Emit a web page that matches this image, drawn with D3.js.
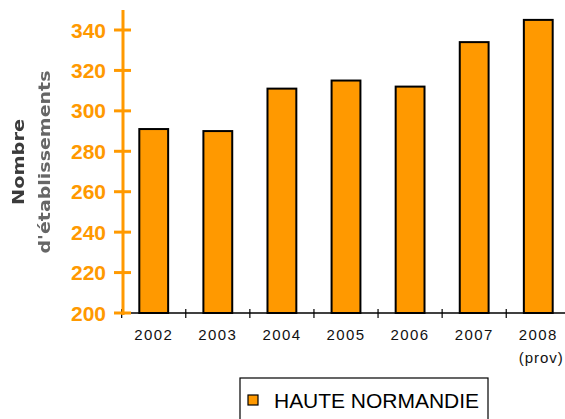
<!DOCTYPE html>
<html>
<head>
<meta charset="utf-8">
<script src="https://d3js.org/d3.v7.min.js"></script>
<style>
body { margin: 0; background: #fff; }
svg { display: block; }
</style>
</head>
<body>
<svg width="565" height="419"></svg>
<script>
var years = ['2002', '2003', '2004', '2005', '2006', '2007', '2008'];
var values = [291, 290, 311, 315, 312, 334, 345];
var yTicks = [200, 220, 240, 260, 280, 300, 320, 340];
var seriesName = 'HAUTE NORMANDIE';

var orange = '#ff9900';
var svg = d3.select('svg');

svg.append('defs').append('filter').attr('id', 'soft')
	.append('feGaussianBlur').attr('stdDeviation', 0.7);

// plot area
var x = d3.scaleBand().domain(years).range([122, 570]).paddingInner(0.55).paddingOuter(0.27);
var y = d3.scaleLinear().domain([200, 340]).range([313, 30]);

// bars
svg.selectAll('rect.bar')
	.data(values)
	.enter()
	.append('rect')
	.attr('class', 'bar')
	.attr('x', function(d, i) { return x(years[i]); })
	.attr('y', function(d) { return y(d); })
	.attr('width', x.bandwidth())
	.attr('height', function(d) { return y(200) - y(d); })
	.attr('fill', orange)
	.attr('stroke', '#000')
	.attr('stroke-width', 2);

// x axis line + ticks between categories
svg.append('line')
	.attr('x1', 122).attr('x2', 565)
	.attr('y1', y(200)).attr('y2', y(200))
	.attr('stroke', '#000').attr('stroke-width', 1.5);

svg.selectAll('line.xt')
	.data(years)
	.enter()
	.append('line')
	.attr('class', 'xt')
	.attr('x1', function(d) { return x(d) - x.step() * x.paddingInner() / 2; })
	.attr('x2', function(d) { return x(d) - x.step() * x.paddingInner() / 2; })
	.attr('y1', y(200) - 4).attr('y2', y(200) + 5)
	.attr('stroke', '#000').attr('stroke-width', 1.2);

svg.selectAll('text.xl')
	.data(years)
	.enter()
	.append('text')
	.attr('class', 'xl')
	.attr('x', function(d) { return x(d) + x.bandwidth() / 2; })
	.attr('y', 340)
	.attr('text-anchor', 'middle')
	.attr('font-family', 'Liberation Sans, Arial, sans-serif')
	.attr('font-size', 15)
	.attr('letter-spacing', 1.4)
	.attr('fill', '#111')
	.text(function(d) { return d; });

svg.append('text')
	.attr('x', x('2008') + x.bandwidth() / 2 + 3)
	.attr('y', 363)
	.attr('text-anchor', 'middle')
	.attr('font-family', 'Liberation Sans, Arial, sans-serif')
	.attr('font-size', 15)
	.attr('letter-spacing', 1)
	.attr('fill', '#111')
	.text('(prov)');

// y axis (orange)
svg.append('line')
	.attr('x1', 123).attr('x2', 123)
	.attr('y1', 10).attr('y2', y(200) + 2)
	.attr('stroke', orange).attr('stroke-width', 3);

svg.selectAll('line.yt')
	.data(yTicks)
	.enter()
	.append('line')
	.attr('class', 'yt')
	.attr('x1', 114).attr('x2', 131)
	.attr('y1', function(d) { return y(d); })
	.attr('y2', function(d) { return y(d); })
	.attr('stroke', orange).attr('stroke-width', 3);

svg.selectAll('text.yl')
	.data(yTicks)
	.enter()
	.append('text')
	.attr('class', 'yl')
	.attr('x', 106)
	.attr('y', function(d) { return y(d); })
	.attr('dy', '0.36em')
	.attr('text-anchor', 'end')
	.attr('font-family', 'Liberation Sans, Arial, sans-serif')
	.attr('font-weight', 'bold')
	.attr('font-size', 21)
	.attr('fill', orange)
	.text(function(d) { return d; });

// axis title (blurry in the original)
var title = svg.append('text')
	.attr('transform', 'translate(31,162) rotate(-90)')
	.attr('text-anchor', 'middle')
	.attr('font-family', 'DejaVu Sans, sans-serif')
	.attr('font-weight', 'bold')
	.attr('font-size', 16)
	.attr('fill', '#3a3a3a')
	.attr('filter', 'url(#soft)');
title.append('tspan').attr('x', 0).attr('y', -7)
	.attr('textLength', 86).attr('lengthAdjust', 'spacingAndGlyphs').text('Nombre');
title.append('tspan').attr('x', 0).attr('y', 19).attr('fill', '#666')
	.attr('textLength', 183).attr('lengthAdjust', 'spacingAndGlyphs').text("d'établissements");

// legend
svg.append('rect')
	.attr('x', 240).attr('y', 378)
	.attr('width', 248).attr('height', 45)
	.attr('fill', '#fff').attr('stroke', '#000').attr('stroke-width', 1.2);
svg.append('rect')
	.attr('x', 248).attr('y', 395)
	.attr('width', 10).attr('height', 10)
	.attr('fill', orange).attr('stroke', '#000').attr('stroke-width', 1.2);
svg.append('text')
	.attr('x', 274).attr('y', 408)
	.attr('font-family', 'Liberation Sans, Arial, sans-serif')
	.attr('font-size', 21)
	.attr('textLength', 205)
	.attr('lengthAdjust', 'spacing')
	.attr('fill', '#000')
	.text(seriesName);
</script>
</body>
</html>
